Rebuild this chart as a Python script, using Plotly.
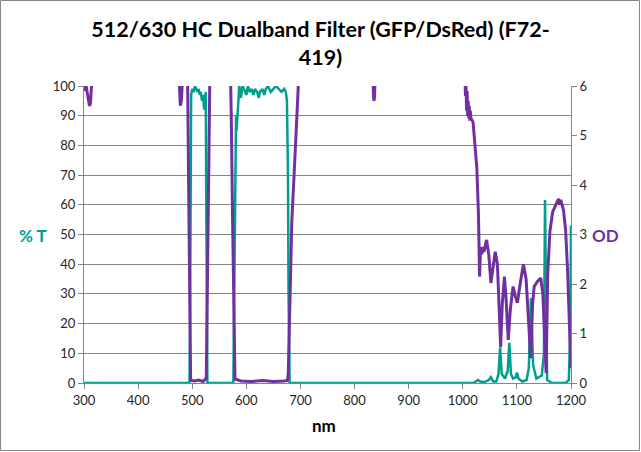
import plotly.graph_objects as go

# ---- data ----
wl_T = [300, 495, 496, 497, 498, 500, 503, 505, 508, 510, 512, 514, 516, 518, 520, 522, 524, 525, 526, 527, 528,
        576, 578, 580, 581, 582, 583, 585, 587, 590, 593, 596, 600, 603, 606, 610, 613, 616, 620, 623, 625, 630,
        633, 636, 640, 645, 650, 655, 660, 665, 670, 673, 675, 677, 678, 679, 680,
        1020, 1028, 1032, 1040, 1048, 1052, 1056, 1062, 1066, 1069, 1072, 1078, 1083, 1086, 1089, 1093, 1098,
        1100, 1103, 1110, 1118, 1122, 1126, 1130, 1136, 1146, 1150, 1152, 1154, 1156, 1165, 1190, 1196, 1199, 1200]
T_pct = [0, 0, 20, 90, 97, 99, 98, 100, 99, 98, 99, 97, 98, 95, 97, 92, 96, 98, 60, 5, 0,
         0, 30, 80, 90, 85, 88, 93, 100, 96, 100, 99, 97, 100, 98, 99, 97, 99, 98, 96, 98, 99,
         97, 99, 100, 98, 99, 100, 99, 98, 99, 98, 95, 70, 30, 5, 0,
         0, 1, 0.5, 0.3, 1, 2, 0.5, 0.5, 3, 12, 3, 1.5, 4, 13.5, 3, 1.5, 2,
         3.5, 1.5, 0.5, 1, 5, 28.6, 6, 1.5, 2.5, 10, 61.6, 25, 1, 0, 0, 1, 20, 53]

wl_OD = [300, 302, 304, 306, 308, 310, 312, 314, 317, 474, 476, 478, 480, 482, 484, 491, 493, 495, 497, 498,
         505, 512, 520, 526, 527, 529, 531, 533, 570, 572, 575, 577, 579, 590, 610, 630, 650, 670, 676,
         677.5, 680, 684, 690, 696, 700, 833, 835, 836, 837, 839,
         1003, 1005, 1006, 1007, 1008, 1009, 1010, 1011, 1012, 1013, 1014, 1015, 1019, 1026, 1029, 1031,
         1033, 1035, 1037, 1039, 1044, 1048, 1052, 1056, 1060, 1064, 1067, 1070, 1073, 1077, 1080, 1084,
         1088, 1093, 1097, 1101, 1106, 1112, 1117, 1121, 1125.6, 1129, 1132, 1138, 1144, 1148, 1151, 1154,
         1157, 1161, 1166, 1171, 1174, 1177, 1179, 1181, 1183, 1186, 1190, 1194, 1197, 1200]
OD = [6.0, 5.9, 6.0, 5.85, 5.8, 5.6, 5.65, 6.0, 6.6, 6.6, 5.9, 5.6, 5.7, 6.0, 6.6, 6.6, 4.0, 1.5, 0.1, 0.05,
      0.04, 0.06, 0.03, 0.1, 1.0, 3.0, 5.0, 6.6, 6.6, 5.5, 3.0, 1.0, 0.08, 0.04, 0.03, 0.05, 0.03, 0.04, 0.05,
      0.2, 1.6, 3.25, 4.6, 6.0, 6.6, 6.6, 5.8, 5.7, 5.8, 6.6,
      6.6, 5.8, 6.0, 5.5, 5.9, 5.4, 5.7, 5.35, 5.6, 5.3, 5.5, 5.35, 5.27, 4.34, 3.4, 2.15,
      2.75, 2.6, 2.75, 2.65, 2.89, 2.6, 2.02, 2.3, 2.65, 2.4, 1.5, 0.73, 1.6, 2.15, 1.7, 0.87,
      1.5, 1.95, 1.75, 1.62, 2.0, 2.4, 2.1, 1.3, 0.5, 1.6, 1.95, 2.05, 2.12, 1.8, 0.8, 0.2,
      2.2, 3.06, 3.45, 3.6, 3.65, 3.72, 3.6, 3.7, 3.62, 3.5, 3.1, 2.2, 1.2, 0.3]

TEAL = "#009E8C"
PURPLE = "#7030A0"
GRID = "#868686"
FONT = "Lato"

fig = go.Figure()
fig.add_trace(go.Scatter(x=wl_T, y=T_pct, mode="lines", line=dict(color=TEAL, width=2.5),
                         yaxis="y", showlegend=False))
fig.add_trace(go.Scatter(x=wl_OD, y=OD, mode="lines", line=dict(color=PURPLE, width=3),
                         yaxis="y2", showlegend=False))

W, H = 641, 452
L, R, T, B = 84, 70, 86, 69
pw, ph = W - L - R, H - T - B

fig.update_layout(
    width=W, height=H,
    margin=dict(l=L, r=R, t=T, b=B),
    paper_bgcolor="white", plot_bgcolor="white",
    font=dict(family=FONT, size=13, color="#262626"),
    title=dict(text="512/630 HC Dualband Filter (GFP/DsRed) (F72-<br>419)",
               x=0.5, xref="container", xanchor="center",
               y=1 - 37 / H, yref="container", yanchor="middle",
               font=dict(family=FONT, size=21.5, color="black", weight="bold")),
    xaxis=dict(range=[300, 1200], dtick=100, tick0=300, showgrid=False, zeroline=False,
               showline=True, linecolor=GRID, linewidth=1, ticks="outside", ticklen=5,
               tickcolor=GRID, tickfont=dict(size=13)),
    yaxis=dict(range=[0, 100], dtick=10, showgrid=True, gridcolor=GRID, gridwidth=1,
               zeroline=False, showline=True, linecolor=GRID, ticks="outside", ticklen=5,
               tickcolor=GRID, tickfont=dict(size=13)),
    yaxis2=dict(range=[0, 6], dtick=1, overlaying="y", side="right", showgrid=False,
                zeroline=False, showline=True, linecolor=GRID, ticks="outside", ticklen=5,
                tickcolor=GRID, tickfont=dict(size=13)),
    annotations=[
        dict(text="<b>% T</b>", xref="paper", yref="paper", x=-(L - 33) / pw, y=(H - B - 236) / ph,
             showarrow=False, xanchor="center", yanchor="middle",
             font=dict(family=FONT, size=17, color=TEAL)),
        dict(text="<b>OD</b>", xref="paper", yref="paper", x=1 + (605 - (W - R)) / pw, y=(H - B - 236) / ph,
             showarrow=False, xanchor="center", yanchor="middle",
             font=dict(family=FONT, size=17, color=PURPLE)),
        dict(text="<b>nm</b>", xref="paper", yref="paper", x=(324 - L) / pw, y=-(425 - (H - B)) / ph,
             showarrow=False, xanchor="center", yanchor="middle",
             font=dict(family=FONT, size=17, color="black")),
    ],
    shapes=[dict(type="rect", xref="paper", yref="paper",
                 x0=-(L - 0.5) / pw, x1=1 + (R - 1.5) / pw,
                 y0=-(B - 1.5) / ph, y1=1 + (T - 0.5) / ph,
                 line=dict(color=GRID, width=1), fillcolor="rgba(0,0,0,0)", layer="below")],
)

fig.write_html("out.html")
